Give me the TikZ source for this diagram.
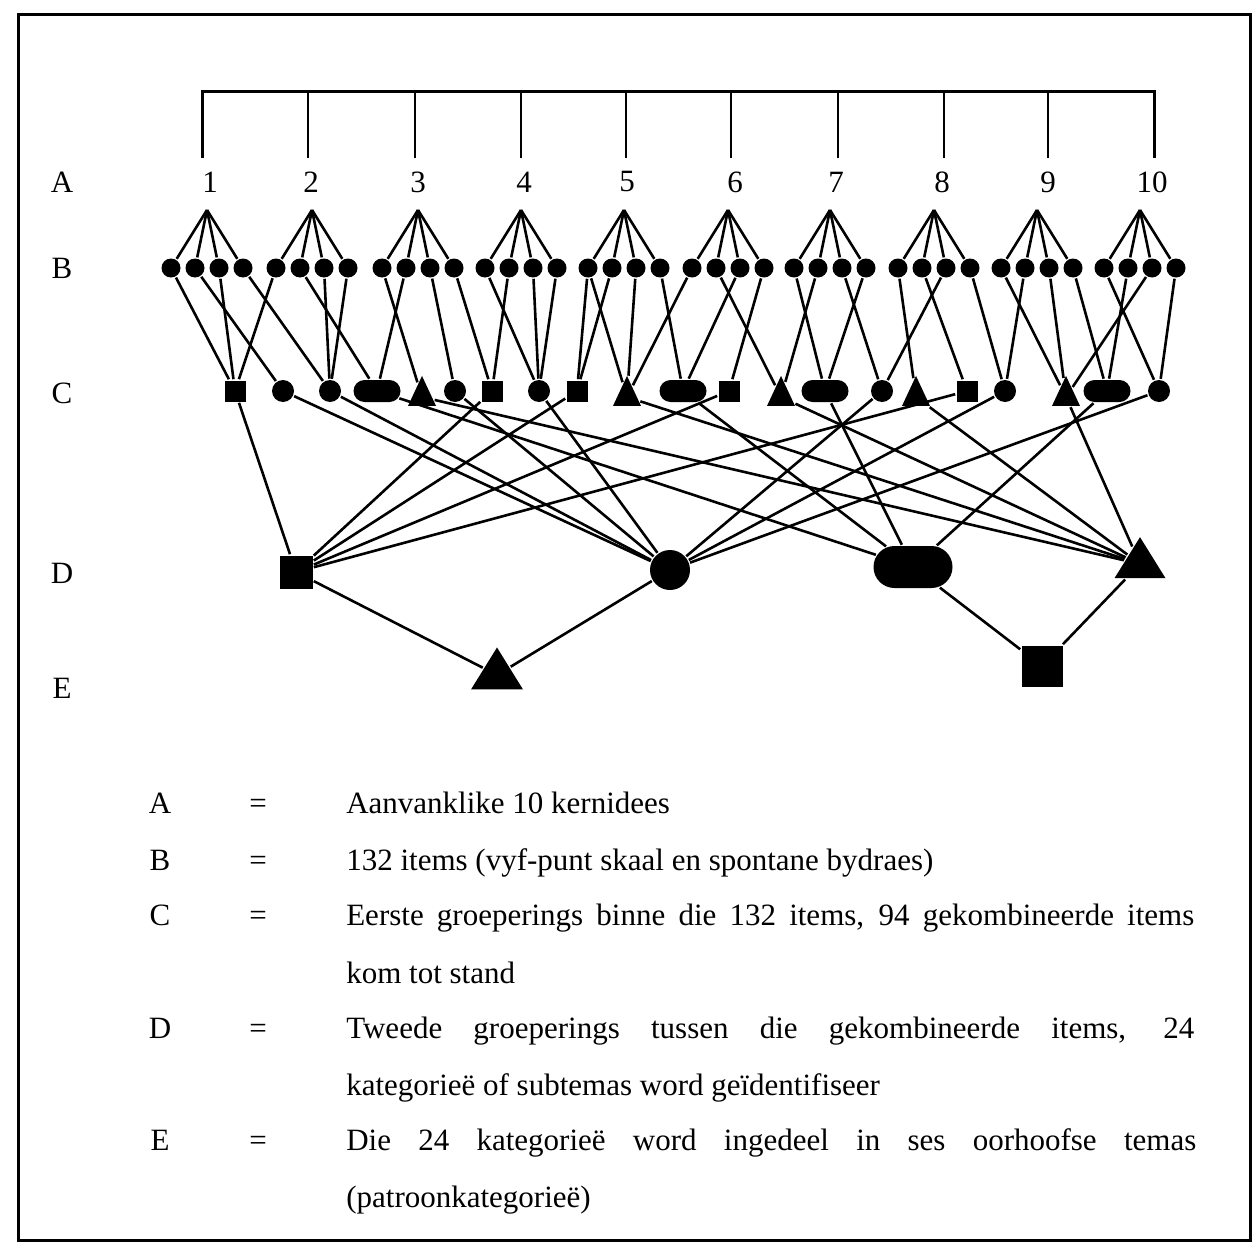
\documentclass[tikz,border=0pt]{standalone}
\usepackage{fontspec}
\setmainfont{Liberation Serif}
\usetikzlibrary{shapes.geometric,shapes.misc}
\tikzset{
	filled/.style = {fill, draw = none, inner sep = 0pt},
	bdot/.style = {filled, circle, minimum size = 9.5pt},
	sqr/.style = {filled, rectangle, minimum width = #1, minimum height = #1},
	rnd/.style = {filled, circle, minimum size = #1},
	pill/.style 2 args = {filled, rounded rectangle, minimum width = #1, minimum height = #2},
	tri/.style 2 args = {filled, isosceles triangle, shape border rotate = 90, isosceles triangle stretches, minimum width = #1, minimum height = #2},
	csq/.style = {sqr = 10.5pt}, ccirc/.style = {rnd = 11pt},
	cpill/.style = {pill = {23.5pt}{11pt}}, ctri/.style = {tri = {14pt}{15pt}, yshift = -3pt},
	lbl/.style = {font = \fontsize{15.5}{18}\selectfont, inner sep = 0pt}
}
\begin{document}
\begin{tikzpicture}[x = .5pt, y = -.5pt, line width = 1.3pt]
	\useasboundingbox (0,0) rectangle (1253,1247);
	\draw[line width = 1.5pt] (18,15) rectangle (1250,1240); %frame
	%bracket over the ten ideas
	\foreach \tx [count = \i] in {202,308,415,521,626,731,838,944,1048,1154} {
		\coordinate (br\i) at (\tx,92);
		\coordinate (bf\i) at (\tx,158);
	}
	\draw[line width = 1.5pt] (bf1) -- (br1) -- (br10) -- (bf10);
	\foreach \i in {2,...,9} \draw (br\i) -- (bf\i);
	\foreach \nx [count = \i] in {210,311,418,524,627,735,836,942,1048,1152}
		\node[lbl] (n\i) at (\nx,182) {\i};
	%row letters
	\foreach \r/\ry in {A/182,B/268,C/393,D/573,E/688}
		\node[lbl] (row\r) at (62,\ry) {\r};
	%level B: four items under every idea
	\foreach \ax [count = \g] in {207,312,418,521,624,728,830,934,1037,1140} {
		\coordinate (a\g) at (\ax,210);
		\foreach \off [count = \k] in {-36,-12,12,36} {
			\node[bdot] (b\g-\k) at (\ax+\off,268) {};
			\draw (a\g) -- (b\g-\k);
		}
	}
	%level C
	\foreach \s/\cx [count = \i] in {csq/235,ccirc/283,ccirc/330,cpill/377,ctri/422,ccirc/455,csq/492,ccirc/539,csq/577,ctri/627,cpill/683,csq/729,ctri/781,cpill/825,ccirc/882,ctri/916,csq/967,ccirc/1005,ctri/1066,cpill/1107,ccirc/1159}
		\node[\s] (c\i) at (\cx,391) {};
	\foreach \g/\k/\c in {1/1/1,1/2/2,1/3/1,1/4/3,2/1/1,2/2/4,2/3/3,2/4/3,3/1/5,3/2/4,3/3/6,3/4/7,4/1/8,4/2/7,4/3/8,4/4/8,5/1/9,5/1/10,5/2/9,5/3/10,5/4/11,6/1/10,6/2/13,6/3/11,6/4/12,7/1/14,7/2/13,7/3/15,7/4/14,8/1/16,8/2/17,8/3/15,8/4/18,9/1/19,9/2/18,9/3/19,9/4/20,10/1/21,10/2/20,10/3/19,10/4/21}
		\draw (b\g-\k) -- (c\c);
	%level D
	\node[sqr = 16.5pt] (dsq) at (296,572) {};
	\node[rnd = 20pt] (dcirc) at (670,570) {};
	\node[pill = {39.5pt}{21pt}] (dpill) at (913,567) {};
	\node[tri = {25.5pt}{20.5pt}] (dtri) at (1140,564) {};
	\foreach \c in {1,7,9,12,17} \draw (c\c) -- (dsq);
	\foreach \c in {2,3,6,8,15,18,21} \draw (c\c) -- (dcirc);
	\foreach \c in {4,11,14,20} \draw (c\c) -- (dpill);
	\foreach \c in {5,10,13,16,19} \draw (c\c) -- (dtri);
	%level E
	\node[tri = {26pt}{21pt}] (etri) at (497,675) {};
	\node[sqr = 20.5pt] (esq) at (1042,666) {};
	\draw (dsq) -- (etri) -- (dcirc);
	\draw (dpill) -- (esq) -- (dtri);
	%legend
	\foreach \r/\ly in {A/813,B/870,C/925,D/1038,E/1150} {
		\node[lbl, anchor = base] (key\r) at (160,\ly) {\r};
		\node[lbl, anchor = base] (eq\r) at (258,\ly) {=};
	}
	\node[lbl, anchor = base west] (txtA) at (345,813) {Aanvanklike 10 kernidees};
	\node[lbl, anchor = base west] (txtB) at (345,870) {132 items (vyf-punt skaal en spontane bydraes)};
	\node[lbl, anchor = base west] (txtC) at (345,925) {\makebox[424pt][s]{Eerste groeperings binne die 132 items, 94 gekombineerde items}};
	\node[lbl, anchor = base west] (txtC2) at (345,983) {kom tot stand};
	\node[lbl, anchor = base west] (txtD) at (345,1038) {\makebox[424pt][s]{Tweede groeperings tussen die gekombineerde items, 24}};
	\node[lbl, anchor = base west] (txtD2) at (345,1095) {kategorieë of subtemas word geïdentifiseer};
	\node[lbl, anchor = base west] (txtE) at (345,1150) {\makebox[425pt][s]{Die 24 kategorieë word ingedeel in ses oorhoofse temas}};
	\node[lbl, anchor = base west] (txtE2) at (345,1207) {(patroonkategorieë)};
\end{tikzpicture}
\end{document}
